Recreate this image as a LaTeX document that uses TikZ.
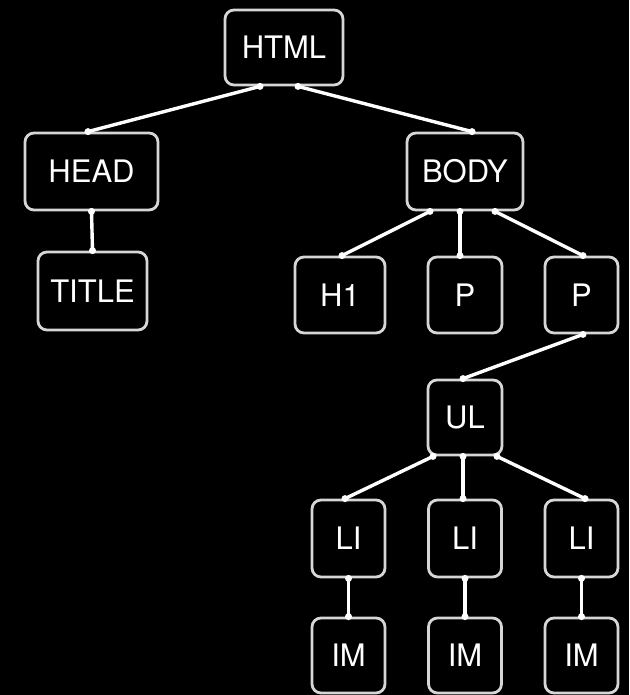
\documentclass[tikz,border=0pt]{standalone}
\usepackage{fontspec}
\setmainfont{TeX Gyre Heros}
\begin{document}
\begin{tikzpicture}[x=1pt,y=-1pt,
  box/.style={draw=boxgray, line width=2.8pt, rounded corners=9pt, fill=black,
    text=white, inner sep=0pt, font=\fontsize{31}{34}\selectfont},
  link/.style={draw=white, line width=3.4pt, line cap=round},
  tip/.style={fill=white, circle, inner sep=0pt, minimum size=7pt}]
\definecolor{boxgray}{HTML}{D6D6D6}
\fill[black] (0,0) rectangle (629,695);
\useasboundingbox (0,0) rectangle (629,695);

% element nodes
\node[box, minimum width=118pt, minimum height=75pt] (html) at (284,47.5) {HTML};
\node[box, minimum width=133pt, minimum height=77pt] (head) at (91.5,171.5) {HEAD};
\node[box, minimum width=109pt, minimum height=78pt] (title) at (92.5,291) {TITLE};
\node[box, minimum width=116pt, minimum height=77pt] (body) at (465,171.5) {BODY};
\node[box, minimum width=90pt, minimum height=76pt] (h1) at (340,295) {H1};
\node[box, minimum width=74pt, minimum height=76pt] (p1) at (465,295) {P};
\node[box, minimum width=73pt, minimum height=76pt] (p2) at (581.5,295) {P};
\node[box, minimum width=74pt, minimum height=75pt] (ul) at (465,417.5) {UL};
\node[box, minimum width=73pt, minimum height=77pt] (li1) at (348.5,538.5) {LI};
\node[box, minimum width=73pt, minimum height=77pt] (li2) at (465,538.5) {LI};
\node[box, minimum width=73pt, minimum height=77pt] (li3) at (581.5,538.5) {LI};
\node[box, minimum width=73pt, minimum height=75pt] (im1) at (348.5,655.5) {IM};
\node[box, minimum width=73pt, minimum height=75pt] (im2) at (465,655.5) {IM};
\node[box, minimum width=73pt, minimum height=75pt] (im3) at (581.5,655.5) {IM};

% parent-child links, with small dots where they meet a box
\newcommand{\treelink}[2]{%
  \draw[link] #1 -- #2;
  \node[tip] at #1 {};
  \node[tip] at #2 {};}
\treelink{([xshift=-24pt]html.south)}{([xshift=-3.5pt]head.north)}
\treelink{([xshift=14pt]html.south)}{([xshift=7pt]body.north)}
\treelink{(head.south)}{(title.north)}
\treelink{([xshift=-35pt]body.south)}{([xshift=2pt]h1.north)}
\treelink{([xshift=-5pt]body.south)}{([xshift=-5pt]p1.north)}
\treelink{([xshift=30pt]body.south)}{([xshift=1.5pt]p2.north)}
\treelink{([xshift=1.5pt]p2.south)}{([xshift=-2pt]ul.north)}
\treelink{([xshift=-32pt]ul.south)}{([xshift=-3.5pt]li1.north)}
\treelink{([xshift=-2pt]ul.south)}{([xshift=-2pt]li2.north)}
\treelink{([xshift=32pt]ul.south)}{([xshift=3.5pt]li3.north)}
\treelink{(li1.south)}{(im1.north)}
\treelink{(li2.south)}{(im2.north)}
\treelink{(li3.south)}{(im3.north)}
\end{tikzpicture}
\end{document}
